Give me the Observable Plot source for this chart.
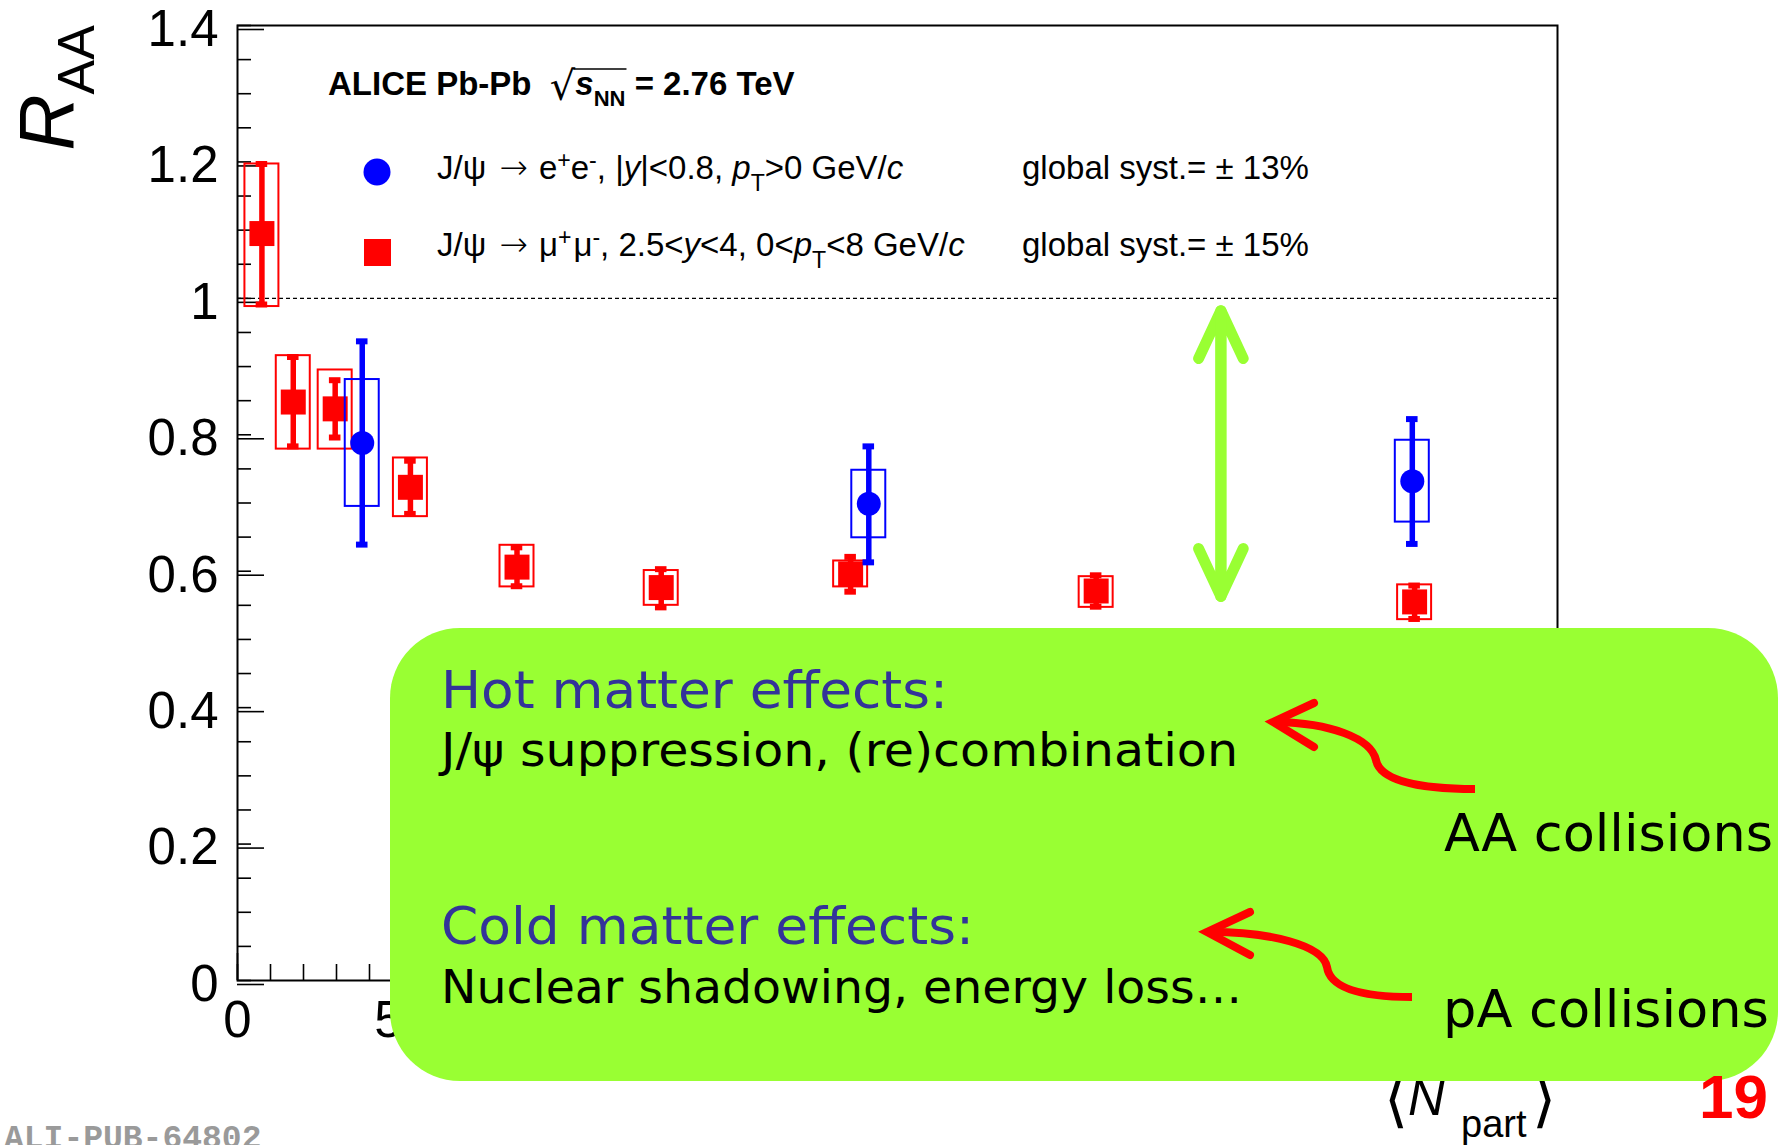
<!DOCTYPE html>
<html>
<head>
<meta charset="utf-8">
<script src="https://cdn.jsdelivr.net/npm/d3@7"></script>
<script src="https://cdn.jsdelivr.net/npm/@observablehq/plot@0.6"></script>
<style>
  html, body { margin: 0; padding: 0; background: #fff; overflow: hidden; }
  #chart svg { display: block; }
</style>
</head>
<body>
<div id="chart"></div>
<script>
// ---------- data ----------
// J/psi -> mu+mu-, 2.5<y<4  (red squares)
const npartMu   = [7.4, 16.9, 29.6, 52.4, 84.7, 128.4, 185.8, 260.2, 356.7];
const raaMu     = [1.095, 0.848, 0.838, 0.723, 0.606, 0.576, 0.596, 0.571, 0.555];
const statLoMu  = [0.991, 0.783, 0.796, 0.684, 0.578, 0.547, 0.570, 0.548, 0.530];
const statHiMu  = [1.197, 0.914, 0.880, 0.762, 0.635, 0.603, 0.621, 0.594, 0.579];
const systLoMu  = [0.988, 0.779, 0.779, 0.680, 0.577, 0.550, 0.577, 0.547, 0.529];
const systHiMu  = [1.197, 0.916, 0.895, 0.766, 0.638, 0.601, 0.615, 0.592, 0.580];

// J/psi -> e+e-, |y|<0.8  (blue circles)
const npartE   = [37.8, 191.3, 356.0];
const raaE     = [0.788, 0.699, 0.732];
const statLoE  = [0.639, 0.613, 0.640];
const statHiE  = [0.937, 0.783, 0.823];
const systLoE  = [0.695, 0.649, 0.672];
const systHiE  = [0.881, 0.748, 0.792];

// green double arrow (gap between forward and mid-rapidity)
const gapNpart = [298];
const gapFrom  = [0.563];
const gapTo    = [0.982];

// axis ticks
const xMajor = [0, 50, 100, 150, 200, 250, 300, 350, 400];
const xMinor = d3.range(0, 401, 10);
const yMajor = [0, 0.2, 0.4, 0.6, 0.8, 1.0, 1.2, 1.4];
const yMinor = d3.range(0, 1.4001, 0.05);

// ---------- build tables ----------
const mu = npartMu.map((n, i) => ({n, r: raaMu[i], sLo: statLoMu[i], sHi: statHiMu[i], yLo: systLoMu[i], yHi: systHiMu[i]}));
const el = npartE.map((n, i) => ({n, r: raaE[i], sLo: statLoE[i], sHi: statHiE[i], yLo: systLoE[i], yHi: systHiE[i]}));
const gap = gapNpart.map((n, i) => ({n, from: gapFrom[i], to: gapTo[i]}));

const RED = "#ff0000", BLUE = "#0000ff", GREEN = "#99ff33";
const BOXW = 5.15, CAPW = 1.75;
const W = 1781, H = 1145;

function series(data, color, symbol, r) {
  return [
    Plot.rect(data, {x1: d => d.n - BOXW, x2: d => d.n + BOXW, y1: "yLo", y2: "yHi", fill: "none", stroke: color, strokeWidth: 2}),
    Plot.ruleX(data, {x: "n", y1: "sLo", y2: "sHi", stroke: color, strokeWidth: 5.5}),
    Plot.ruleY(data, {y: "sHi", x1: d => d.n - CAPW, x2: d => d.n + CAPW, stroke: color, strokeWidth: 6}),
    Plot.ruleY(data, {y: "sLo", x1: d => d.n - CAPW, x2: d => d.n + CAPW, stroke: color, strokeWidth: 6}),
    Plot.dot(data, {x: "n", y: "r", symbol, r, fill: color, stroke: "none"})
  ];
}

const plot = Plot.plot({
  width: W, height: H,
  marginLeft: 237, marginRight: W - 1557, marginTop: 25, marginBottom: H - 980,
  x: {domain: [0, 400], label: null},
  y: {domain: [0, 1.4], label: null},
  style: {background: "white", overflow: "visible", fontFamily: "'Liberation Sans', Arial, sans-serif", color: "black"},
  marks: [
    Plot.ruleY([1], {stroke: "black", strokeWidth: 1.2, strokeDasharray: "4,3"}),
    Plot.axisY(yMinor, {tickSize: -14, tickFormat: () => "", strokeWidth: 1.6, label: null}),
    Plot.axisY(yMajor, {tickSize: -27, tickPadding: 46, strokeWidth: 1.6, fontSize: 51, dy: 4, label: null,
      tickFormat: d => String(+d.toFixed(2))}),
    Plot.axisX(xMinor, {tickSize: -16, tickFormat: () => "", strokeWidth: 1.6, label: null}),
    Plot.axisX(xMajor, {tickSize: -27, tickPadding: 47, strokeWidth: 1.6, fontSize: 51, label: null,
      tickFormat: d => String(d)}),
    Plot.frame({stroke: "black", strokeWidth: 2}),
    ...series(mu, RED, "square", 14.1),
    ...series(el, BLUE, "circle", 12),
    Plot.arrow(gap, {x1: "n", x2: "n", y1: "from", y2: "to", stroke: GREEN, strokeWidth: 11, headLength: 7.2, headAngle: 50, strokeLinecap: "round", strokeLinejoin: "miter"}),
    Plot.arrow(gap, {x1: "n", x2: "n", y1: "to", y2: "from", stroke: GREEN, strokeWidth: 11, headLength: 7.2, headAngle: 50, strokeLinecap: "round", strokeLinejoin: "miter"})
  ]
});

document.getElementById("chart").appendChild(plot);
const svg = d3.select(plot);

// rich text helper
function rich(parent, x, y, size, family, parts, attrs = {}) {
  const t = parent.append("text").attr("x", x).attr("y", y).attr("text-anchor", "start")
    .attr("font-size", size).attr("font-family", family).attr("fill", attrs.fill || "black");
  for (const k in attrs) if (k !== "fill") t.attr(k, attrs[k]);
  let shift = 0;
  for (const p of parts) {
    const [s, o] = typeof p === "string" ? [p, {}] : p;
    const ts = t.append("tspan").text(s);
    const fs = o.size || ((o.sup || o.sub) ? size * 0.7 : size);
    const target = o.sup ? -0.33 * size : o.sub ? (o.subShift != null ? o.subShift : 0.36 * size) : (o.shift || 0);
    const dy = target - shift; shift = target;
    if (dy) ts.attr("dy", dy);
    if (o.dx) ts.attr("dx", o.dx);
    if (fs !== size) ts.attr("font-size", fs);
    if (o.italic) ts.attr("font-style", "italic");
    if (o.bold) ts.attr("font-weight", "bold");
    if (o.normal) ts.attr("font-weight", "normal");
    if (o.weight) ts.attr("font-weight", o.weight);
    if (o.family) ts.attr("font-family", o.family);
    if (o.fill) ts.attr("fill", o.fill);
  }
  return t;
}

const SANS = "'Liberation Sans', Arial, Helvetica, sans-serif";
const DJV = "'DejaVu Sans', sans-serif";
const g = svg.append("g").attr("text-anchor", "start");

// legend
const title = rich(g, 328, 95, 33, SANS, [
  "ALICE Pb-Pb  ", ["√", {size: 40, normal: true, family: DJV, shift: 5}], ["s", {italic: true}],
  ["NN", {sub: true, size: 22, subShift: 11}], " = 2.76 TeV"
], {"font-weight": "bold"});
{
  const node = title.node();
  const idx = "ALICE Pb-Pb  ".length;
  const eR = node.getExtentOfChar(idx), eN = node.getExtentOfChar(idx + 3);
  g.append("line").attr("x1", eR.x + eR.width - 2).attr("x2", eN.x + eN.width + 1)
    .attr("y1", 69).attr("y2", 69).attr("stroke", "black").attr("stroke-width", 1.6);
}
g.append("circle").attr("cx", 377).attr("cy", 172).attr("r", 13.5).attr("fill", BLUE);
g.append("rect").attr("x", 364).attr("y", 239).attr("width", 27).attr("height", 27).attr("fill", RED);
const ARROW = {family: DJV, size: 34, dx: 4, weight: 200};
rich(g, 437, 179, 33, SANS, [
  "J/ψ ", ["→", ARROW], ["e", {dx: 11}], ["+", {sup: true}], "e", ["-", {sup: true}], ", |", ["y", {italic: true}], "|<0.8, ",
  ["p", {italic: true}], ["T", {sub: true}], ">0 GeV/", ["c", {italic: true}]
]);
rich(g, 1022, 179, 33, SANS, ["global syst.= ± 13%"]);
rich(g, 437, 256, 33, SANS, [
  "J/ψ ", ["→", ARROW], ["μ", {dx: 11}], ["+", {sup: true}], ["μ", {dx: 2}], ["-", {sup: true}], ", 2.5<", ["y", {italic: true}], "<4, 0<",
  ["p", {italic: true}], ["T", {sub: true}], "<8 GeV/", ["c", {italic: true}]
]);
rich(g, 1022, 256, 33, SANS, ["global syst.= ± 15%"]);

// axis titles
rich(g, 0, 0, 78, SANS, [["R", {italic: true}], ["AA", {sub: true, size: 52, subShift: 21}]],
  {"text-anchor": "end", transform: "translate(73,25) rotate(-90)"});
rich(g, 1384, 1120, 62, DJV, ["⟨"]);
rich(g, 1408, 1115, 51, SANS, [["N", {italic: true}]]);
rich(g, 1461, 1137, 38, SANS, ["part"]);
rich(g, 1532, 1120, 62, DJV, ["⟩"]);

// watermark id
g.append("text").attr("x", 4).attr("y", 1148).attr("text-anchor", "start")
  .attr("font-family", "'Liberation Mono', 'DejaVu Sans Mono', monospace")
  .attr("font-size", 33).attr("fill", "#9a9a9a").attr("font-weight", "bold").text("ALI-PUB-64802");

// green annotation box
g.append("rect").attr("x", 390).attr("y", 628).attr("width", 1388).attr("height", 453)
  .attr("rx", 70).attr("ry", 70).attr("fill", GREEN);

const VERD = "'DejaVu Sans', Verdana, sans-serif";
const boxText = (x, y, size, len, str, fill) =>
  g.append("text").attr("x", x).attr("y", y).attr("text-anchor", "start").attr("font-family", VERD).attr("font-size", size)
    .attr("fill", fill).attr("textLength", len).attr("lengthAdjust", "spacingAndGlyphs").text(str);
boxText(441, 708, 51, 507, "Hot matter effects:", "#333399");
boxText(441, 766, 46, 797, "J/ψ suppression, (re)combination", "black");
boxText(1444, 851, 51, 329, "AA collisions", "black");
boxText(441, 944, 51, 533, "Cold matter effects:", "#333399");
boxText(441, 1003, 46, 801, "Nuclear shadowing, energy loss…", "black");
boxText(1443, 1027, 51, 326, "pA collisions", "black");

// red curved arrows
const arrowPaths = [
  {body: "M1475,789 C1420,789 1380,781 1376,760 C1371,738 1330,723 1276,722", head: "M1314,703 L1273,722 L1314,747"},
  {body: "M1412,997 C1360,997 1330,988 1327,967 C1323,945 1270,932 1210,932", head: "M1250,912 L1207,932 L1250,955"}
];
for (const a of arrowPaths) {
  g.append("path").attr("d", a.body).attr("fill", "none").attr("stroke", RED).attr("stroke-width", 8);
  g.append("path").attr("d", a.head).attr("fill", "none").attr("stroke", RED).attr("stroke-width", 8)
    .attr("stroke-linejoin", "miter").attr("stroke-linecap", "round");
}

// slide number
g.append("text").attr("x", 1768).attr("y", 1118).attr("text-anchor", "end").attr("font-family", SANS)
  .attr("font-weight", "bold").attr("font-size", 62).attr("fill", RED).text("19");
</script>
</body>
</html>
